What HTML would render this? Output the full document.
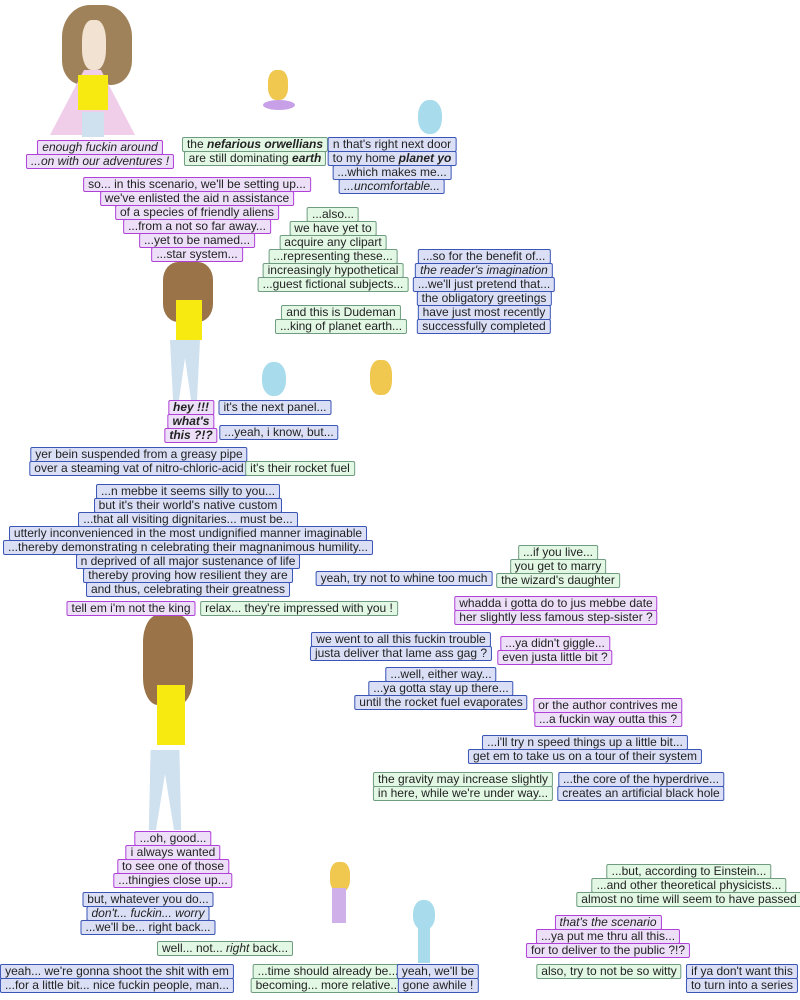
<!DOCTYPE html>
<html><head><meta charset="utf-8"><style>
body{margin:0;width:800px;height:1000px;background:#fff;position:relative;overflow:hidden;font-family:"Liberation Sans",Arial,sans-serif;}
.b{position:absolute;transform:translateX(-50%);display:flex;flex-direction:column;align-items:center;font-size:12px;color:#222;white-space:nowrap;}
.b div{border:1px solid;line-height:13px;padding:0 4px;margin-top:-1px;border-radius:2px;}
.p div{background:#ecdff7;border-color:#b040d8;}
.g div{background:#e2f8e4;border-color:#6f9c80;}
.u div{background:#dadff6;border-color:#3a55b5;}
.s{position:absolute;}
</style></head><body>

<div class="s" style="left:62px;top:5px;width:70px;height:80px;background:#a0825a;border-radius:40% 40% 30% 30%;"></div>
<div class="s" style="left:82px;top:20px;width:24px;height:50px;background:#f2e2d2;border-radius:40%;"></div>
<div class="s" style="left:50px;top:70px;width:85px;height:65px;background:#f0cde8;clip-path:polygon(40% 0,60% 0,100% 100%,0 100%);"></div>
<div class="s" style="left:78px;top:75px;width:30px;height:35px;background:#f6ea10;"></div>
<div class="s" style="left:82px;top:112px;width:22px;height:25px;background:#cfe0ef;"></div>
<div class="s" style="left:268px;top:70px;width:20px;height:30px;background:#f0c850;border-radius:40%;"></div>
<div class="s" style="left:263px;top:100px;width:32px;height:10px;background:#c8a0e8;border-radius:50%;"></div>
<div class="s" style="left:418px;top:100px;width:24px;height:34px;background:#a8dcec;border-radius:45%;"></div>
<div class="s" style="left:370px;top:360px;width:22px;height:35px;background:#f0c850;border-radius:40%;"></div>
<div class="s" style="left:262px;top:362px;width:24px;height:34px;background:#a8dcec;border-radius:45%;"></div>
<div class="s" style="left:163px;top:262px;width:50px;height:60px;background:#9a7448;border-radius:30%;"></div>
<div class="s" style="left:176px;top:300px;width:26px;height:40px;background:#f6ea10;"></div>
<div class="s" style="left:170px;top:340px;width:30px;height:60px;background:#cfe0ef;clip-path:polygon(0 0,100% 0,90% 100%,70% 100%,50% 30%,30% 100%,10% 100%);"></div>
<div class="s" style="left:143px;top:615px;width:50px;height:90px;background:#9a7448;border-radius:30%;"></div>
<div class="s" style="left:157px;top:685px;width:28px;height:60px;background:#f6ea10;"></div>
<div class="s" style="left:147px;top:750px;width:36px;height:80px;background:#cfe0ef;clip-path:polygon(10% 0,90% 0,95% 100%,75% 100%,50% 30%,25% 100%,5% 100%);"></div>
<div class="s" style="left:330px;top:862px;width:20px;height:30px;background:#f0c850;border-radius:40%;"></div>
<div class="s" style="left:332px;top:888px;width:14px;height:35px;background:#d0b0e8;"></div>
<div class="s" style="left:413px;top:900px;width:22px;height:30px;background:#a8dcec;border-radius:45%;"></div>
<div class="s" style="left:418px;top:928px;width:12px;height:35px;background:#a8dcec;"></div>

<div class="b p" style="left:100px;top:141px"><div><i>enough fuckin around</i></div><div><i>...on with our adventures !</i></div></div>
<div class="b g" style="left:255px;top:138px"><div>the <b><i>nefarious orwellians</i></b></div><div>are still dominating <b><i>earth</i></b></div></div>
<div class="b u" style="left:392px;top:138px"><div>n that's right next door</div><div>to my home <b><i>planet yo</i></b></div><div>...which makes me...</div><div><i>...uncomfortable...</i></div></div>
<div class="b p" style="left:197px;top:178px"><div>so... in this scenario, we'll be setting up...</div><div>we've enlisted the aid n assistance</div><div>of a species of friendly aliens</div><div>...from a not so far away...</div><div>...yet to be named...</div><div>...star system...</div></div>
<div class="b g" style="left:333px;top:208px"><div>...also...</div><div>we have yet to</div><div>acquire any clipart</div><div>...representing these...</div><div>increasingly hypothetical</div><div>...guest fictional subjects...</div></div>
<div class="b u" style="left:484px;top:250px"><div>...so for the benefit of...</div><div><i>the reader's imagination</i></div><div>...we'll just pretend that...</div><div>the obligatory greetings</div><div>have just most recently</div><div>successfully completed</div></div>
<div class="b g" style="left:341px;top:306px"><div>and this is Dudeman</div><div>...king of planet earth...</div></div>
<div class="b p" style="left:191px;top:401px"><div><b><i>hey !!!</i></b></div><div><b><i>what's</i></b></div><div><b><i>this ?!?</i></b></div></div>
<div class="b u" style="left:275px;top:401px"><div>it's the next panel...</div></div>
<div class="b u" style="left:279px;top:426px"><div>...yeah, i know, but...</div></div>
<div class="b u" style="left:139px;top:448px"><div>yer bein suspended from a greasy pipe</div><div>over a steaming vat of nitro-chloric-acid</div></div>
<div class="b g" style="left:300px;top:462px"><div>it's their rocket fuel</div></div>
<div class="b u" style="left:188px;top:485px"><div>...n mebbe it seems silly to you...</div><div>but it's their world's native custom</div><div>...that all visiting dignitaries... must be...</div><div>utterly inconvenienced in the most undignified manner imaginable</div><div>...thereby demonstrating n celebrating their magnanimous humility...</div><div>n deprived of all major sustenance of life</div><div>thereby proving how resilient they are</div><div>and thus, celebrating their greatness</div></div>
<div class="b g" style="left:558px;top:546px"><div>...if you live...</div><div>you get to marry</div><div>the wizard's daughter</div></div>
<div class="b u" style="left:404px;top:572px"><div>yeah, try not to whine too much</div></div>
<div class="b p" style="left:131px;top:602px"><div>tell em i'm not the king</div></div>
<div class="b g" style="left:299px;top:602px"><div>relax... they're impressed with you !</div></div>
<div class="b p" style="left:556px;top:597px"><div>whadda i gotta do to jus mebbe date</div><div>her slightly less famous step-sister ?</div></div>
<div class="b u" style="left:401px;top:633px"><div>we went to all this fuckin trouble</div><div>justa deliver that lame ass gag ?</div></div>
<div class="b p" style="left:555px;top:637px"><div>...ya didn't giggle...</div><div>even justa little bit ?</div></div>
<div class="b u" style="left:441px;top:668px"><div>...well, either way...</div><div>...ya gotta stay up there...</div><div>until the rocket fuel evaporates</div></div>
<div class="b p" style="left:608px;top:699px"><div>or the author contrives me</div><div>...a fuckin way outta this ?</div></div>
<div class="b u" style="left:585px;top:736px"><div>...i'll try n speed things up a little bit...</div><div>get em to take us on a tour of their system</div></div>
<div class="b g" style="left:463px;top:773px"><div>the gravity may increase slightly</div><div>in here, while we're under way...</div></div>
<div class="b u" style="left:641px;top:773px"><div>...the core of the hyperdrive...</div><div>creates an artificial black hole</div></div>
<div class="b p" style="left:173px;top:832px"><div>...oh, good...</div><div>i always wanted</div><div>to see one of those</div><div>...thingies close up...</div></div>
<div class="b g" style="left:689px;top:865px"><div>...but, according to Einstein...</div><div>...and other theoretical physicists...</div><div>almost no time will seem to have passed</div></div>
<div class="b u" style="left:148px;top:893px"><div>but, whatever you do...</div><div><i>don't... fuckin... worry</i></div><div>...we'll be... right back...</div></div>
<div class="b p" style="left:608px;top:916px"><div><i>that's the scenario</i></div><div>...ya put me thru all this...</div><div>for to deliver to the public ?!?</div></div>
<div class="b g" style="left:225px;top:942px"><div>well... not... <i>right</i> back...</div></div>
<div class="b u" style="left:117px;top:965px"><div>yeah... we're gonna shoot the shit with em</div><div>...for a little bit... nice fuckin people, man...</div></div>
<div class="b g" style="left:328px;top:965px"><div>...time should already be...</div><div>becoming... more relative...</div></div>
<div class="b u" style="left:438px;top:965px"><div>yeah, we'll be</div><div>gone awhile !</div></div>
<div class="b g" style="left:609px;top:965px"><div>also, try to not be so witty</div></div>
<div class="b u" style="left:742px;top:965px"><div>if ya don't want this</div><div>to turn into a series</div></div>
</body></html>
